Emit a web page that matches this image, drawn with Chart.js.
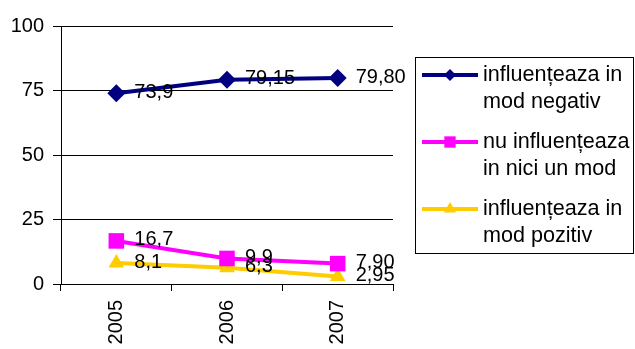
<!DOCTYPE html>
<html>
<head>
<meta charset="utf-8">
<script src="https://cdn.jsdelivr.net/npm/chart.js@4"></script>
<style>
  html, body { margin: 0; padding: 0; background: #fff; }
</style>
</head>
<body>
<canvas id="chart" width="635" height="349"></canvas>
<script>
// data
const years = ["2005", "2006", "2007"];
const negativ = [73.9, 79.15, 79.80];
const niciUnMod = [16.7, 9.9, 7.9];
const pozitiv = [8.1, 6.3, 2.95];
const negativLabels = ["73,9", "79,15", "79,80"];
const niciUnModLabels = ["16,7", "9,9", "7,90"];
const pozitivLabels = ["8,1", "6,3", "2,95"];
const seriesNames = [
    ["influențeaza in", "mod negativ"],
    ["nu influențeaza", "in nici un mod"],
    ["influențeaza in", "mod pozitiv"]
];
const yTicks = [0, 25, 50, 75, 100];

const FONT = '"Liberation Sans", Arial, sans-serif';
const colors = ["#000080", "#FF00FF", "#FFCC00"];
const styles = ["rectRot", "rect", "triangle"];
const radii = [9, 11, 9];

/* draw the value next to every point */
const valueLabels = {
    id: "valueLabels",
    afterDatasetsDraw(chart) {
        let ctx = chart.ctx;
        ctx.save();
        ctx.font = "20px " + FONT;
        ctx.fillStyle = "#000";
        ctx.textAlign = "left";
        ctx.textBaseline = "middle";
        chart.data.datasets.forEach(function (ds, i) {
            let meta = chart.getDatasetMeta(i);
            meta.data.forEach(function (pt, j) {
                ctx.fillText(ds.valueLabels[j], pt.x + 18, pt.y - 1);
            });
        });
        ctx.restore();
    }
};

function marker(ctx, style, x, y, r) {
    ctx.beginPath();
    if (style === "rectRot") {
        ctx.moveTo(x - r, y); ctx.lineTo(x, y - r); ctx.lineTo(x + r, y); ctx.lineTo(x, y + r);
    } else if (style === "rect") {
        let s = r * Math.SQRT1_2;
        ctx.rect(x - s, y - s, 2 * s, 2 * s);
    } else {
        let w = r * Math.sqrt(3) / 2;
        ctx.moveTo(x, y - r); ctx.lineTo(x + w, y + r / 2); ctx.lineTo(x - w, y + r / 2);
    }
    ctx.closePath();
    ctx.fill();
}

/* boxed legend on the right */
const boxLegend = {
    id: "boxLegend",
    afterDraw(chart) {
        let ctx = chart.ctx;
        ctx.save();
        ctx.strokeStyle = "#000";
        ctx.lineWidth = 1;
        ctx.strokeRect(415.5, 57.5, 218, 196);
        let rowY = [75, 142, 209];
        chart.data.datasets.forEach(function (ds, i) {
            let y = rowY[i];
            ctx.strokeStyle = ds.borderColor;
            ctx.fillStyle = ds.borderColor;
            ctx.lineWidth = 4;
            ctx.beginPath();
            ctx.moveTo(422, y);
            ctx.lineTo(478, y);
            ctx.stroke();
            marker(ctx, ds.pointStyle, 450, y, [6, 8, 7][i]);
            ctx.fillStyle = "#000";
            ctx.font = "21.6px " + FONT;
            ctx.textAlign = "left";
            ctx.textBaseline = "middle";
            ds.legendLines.forEach(function (t, k) {
                ctx.fillText(t, 483, y + k * 27);
            });
        });
        ctx.restore();
    }
};

function makeSet(label, data, labels, i) {
    return {
        label: label.join(" "),
        legendLines: label,
        valueLabels: labels,
        data: data,
        borderColor: colors[i],
        backgroundColor: colors[i],
        borderWidth: 4,
        pointStyle: styles[i],
        pointRadius: radii[i],
        pointHoverRadius: radii[i],
        pointBorderWidth: 0,
        pointBackgroundColor: colors[i],
        tension: 0,
        fill: false
    };
}

let ctx0 = document.getElementById("chart");
let myChart = new Chart(ctx0, {
    type: "line",
    data: {
        labels: years,
        datasets: [
            makeSet(seriesNames[0], negativ, negativLabels, 0),
            makeSet(seriesNames[1], niciUnMod, niciUnModLabels, 1),
            makeSet(seriesNames[2], pozitiv, pozitivLabels, 2)
        ]
    },
    options: {
        responsive: false,
        animation: false,
        layout: { padding: { top: 26, right: 242, left: 0, bottom: 0 } },
        plugins: {
            legend: { display: false },
            tooltip: { enabled: false }
        },
        scales: {
            x: {
                offset: true,
                grid: { offset: true, drawOnChartArea: false, drawTicks: true, tickLength: 7, color: "#000" },
                border: { color: "#000", width: 1 },
                ticks: { minRotation: 90, maxRotation: 90, padding: 9, color: "#000", font: { family: FONT, size: 20 } },
                afterFit: function (s) { s.height = 65; }
            },
            y: {
                min: 0,
                max: 100,
                afterBuildTicks: function (s) { s.ticks = yTicks.map(function (v) { return { value: v }; }); },
                grid: { color: "#000", tickLength: 8 },
                border: { color: "#000", width: 1 },
                ticks: { padding: 9, color: "#000", font: { family: FONT, size: 20 } },
                afterFit: function (s) { s.width = 61; }
            }
        }
    },
    plugins: [valueLabels, boxLegend]
});
</script>
</body>
</html>
